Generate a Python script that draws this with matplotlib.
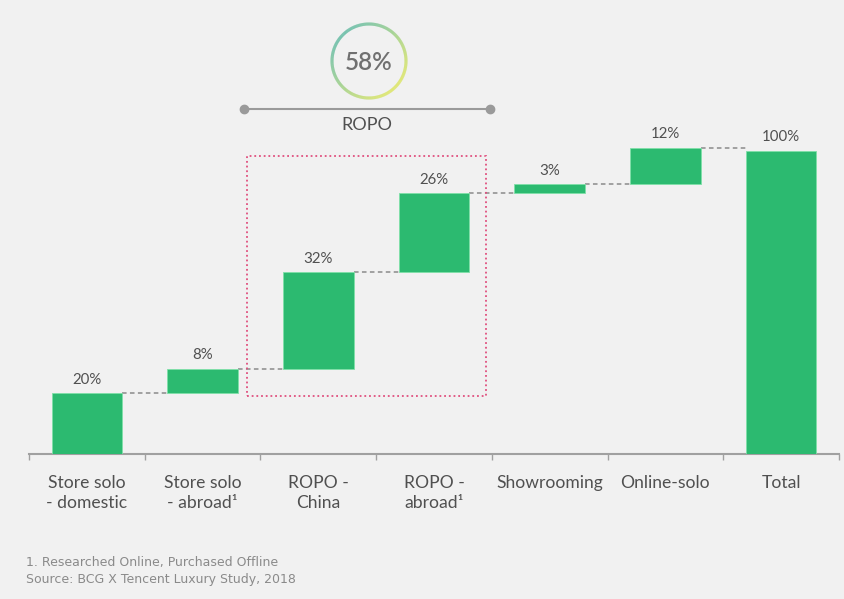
import numpy as np
import matplotlib.pyplot as plt
from matplotlib.collections import LineCollection
from matplotlib.patches import Rectangle

plt.rcParams['font.family'] = ['Lato', 'DejaVu Sans']

# waterfall steps (share of purchases, %)
categories = ['Store solo\n- domestic', 'Store solo\n- abroad\u00b9', 'ROPO -\nChina',
              'ROPO -\nabroad\u00b9', 'Showrooming', 'Online-solo', 'Total']
steps = [20, 8, 32, 26, 3, 12]
total = 100
ropo_idx = [2, 3]

footnote = '1. Researched Online, Purchased Offline\nSource: BCG X Tencent Luxury Study, 2018'

bg = '#f1f1f1'
green = '#2cba70'
txt = '#505050'

W, H = 845, 599
fig = plt.figure(figsize=(W / 100, H / 100), dpi=100, facecolor=bg)

# main axes: x from -0.5..6.5, y scaled 3.03 px per percent
ax_left, ax_right, ax_bottom = 29, 839, 454
ppu = 3.03
ax = fig.add_axes([ax_left / W, (H - ax_bottom) / H, (ax_right - ax_left) / W, ax_bottom / H])
ax.set_facecolor(bg)
ax.set_xlim(-0.5, 6.5)
ax.set_ylim(0, ax_bottom / ppu)

bw = 0.61
bottoms = np.concatenate([[0], np.cumsum(steps)[:-1]])
x = np.arange(len(categories))

heights = list(steps) + [total]
bases = list(bottoms) + [0]
ax.bar(x, heights, bottom=bases, width=bw, color=green, edgecolor='#7fe0a8', linewidth=0.6, zorder=3)

for xi, h, b in zip(x, heights, bases):
    ax.text(xi, b + h + 2.2, f'{h}%', ha='center', va='bottom', fontsize=10.8, color=txt)

# dashed connectors between consecutive bars
tops = [b + h for b, h in zip(bases, heights)]
for i in range(len(steps)):
    y = tops[i]
    ax.plot([x[i] + bw / 2, x[i + 1] - bw / 2], [y, y], color='#8a8a8a', lw=1.1,
            ls=(0, (3, 2.2)), zorder=2)

# dotted frame around the ROPO bars
r0, r1 = ropo_idx[0], ropo_idx[-1]
ax.add_patch(Rectangle((r0 - 0.62, 19.2), (r1 - r0) + 1.07, 79.2, fill=False,
                       edgecolor='#e0507e', lw=1.3, ls=(0, (1, 1.6)), zorder=4))

# ROPO bracket line above
lx0, lx1, ly = r0 - 0.64, r1 + 0.48, 113.8
ax.plot([lx0, lx1], [ly, ly], color='#9a9a9a', lw=1.5, zorder=3, clip_on=False)
ax.plot([lx0, lx1], [ly, ly], 'o', color='#9a9a9a', ms=6, zorder=3, clip_on=False)
ax.text((lx0 + lx1) / 2, ly - 2.5, 'ROPO', ha='center', va='top', fontsize=13, color=txt)

# axis styling
for s in ['top', 'right', 'left']:
    ax.spines[s].set_visible(False)
ax.spines['bottom'].set_color('#a0a0a0')
ax.spines['bottom'].set_linewidth(1.5)
ax.set_yticks([])
ax.set_xticks(x)
ax.set_xticklabels(categories, fontsize=12.6, color=txt, linespacing=1.3)
ax.tick_params(axis='x', which='major', length=0, pad=15)
ax.set_xticks(np.arange(-0.5, 7.0, 1), minor=True)
ax.tick_params(axis='x', which='minor', length=4, width=1, color='#a0a0a0', direction='out')

# overlay in pixel coordinates for the ring badge and footnote
ov = fig.add_axes([0, 0, 1, 1])
ov.set_xlim(0, W)
ov.set_ylim(H, 0)
ov.axis('off')
ov.patch.set_alpha(0)

cx, cy, rad = 369, 61, 37
theta = np.linspace(0, 2 * np.pi, 361)
px = cx + rad * np.cos(theta)
py = cy - rad * np.sin(theta)
segs = np.stack([np.column_stack([px[:-1], py[:-1]]), np.column_stack([px[1:], py[1:]])], axis=1)
# teal at upper-left fading to yellow-green at lower-right
mid = theta[:-1] + np.pi / 360
t = (1 - np.cos(mid - 3 * np.pi / 4)) / 2
c0 = np.array([0.35, 0.72, 0.62])
c1 = np.array([0.86, 0.90, 0.35])
cols = c0[None, :] * (1 - t[:, None]) + c1[None, :] * t[:, None]
ov.add_collection(LineCollection(segs, colors=cols, linewidths=2.2))
ropo_share = sum(steps[i] for i in ropo_idx)
ov.text(cx, cy + 1, f'{ropo_share}%', ha='center', va='center', fontsize=17.5, color='#707070',
        fontweight='semibold')

ov.text(26, 571, footnote, ha='left', va='center', fontsize=9, color='#8a8a8a',
        linespacing=1.35, family='DejaVu Sans')

fig.savefig('out.png', dpi=100, facecolor=bg)
